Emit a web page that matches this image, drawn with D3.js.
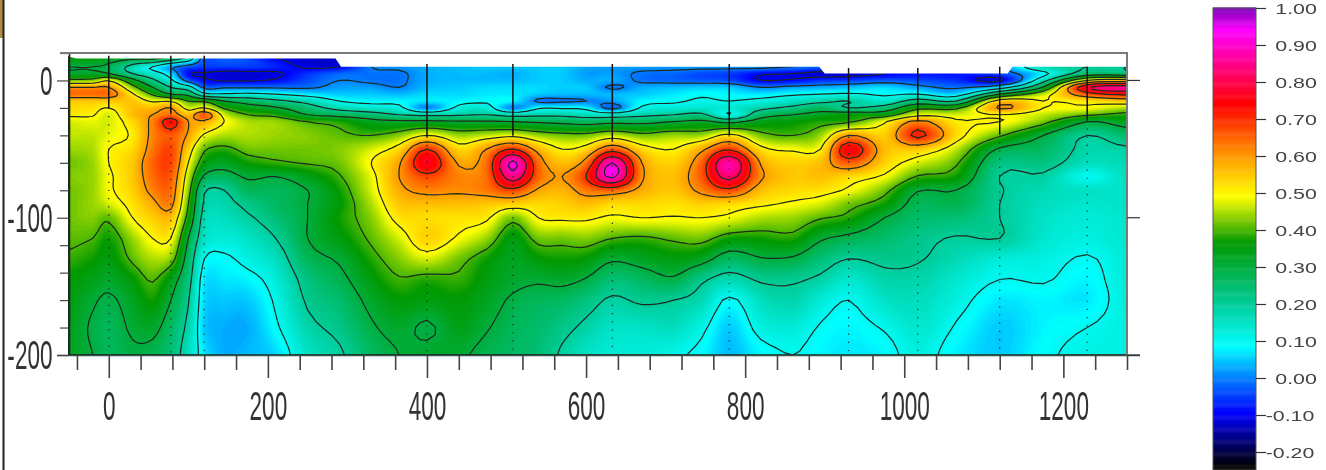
<!DOCTYPE html>
<html>
<head>
<meta charset="utf-8">
<script src="https://cdn.jsdelivr.net/npm/d3@7"></script>
<style>
  html, body { margin: 0; padding: 0; background: #fff; }
  svg { display: block; filter: blur(0.45px); }
  text { font-family: "Liberation Sans", Arial, sans-serif; }
</style>
</head>
<body>
<svg id="chart" width="1326" height="470"></svg>
<script>
// distance along the line (m) of each grid column
const gridX = [-50, -20, 0, 30, 55, 78, 100, 120, 145, 175, 210, 250, 290, 330, 365, 400, 440, 475, 508,
  540, 570, 600, 633, 670, 710, 745, 780, 820, 860, 895, 930, 975, 1017, 1065, 1120, 1175, 1230, 1280];
// elevation (m) of each grid row
const gridZ = [17, 10, 5, 0, -5, -10, -15, -20, -25, -30, -40, -50, -60, -70, -80, -90, -100, -115, -130, -145, -160, -180, -200];

// values, one list per column, top to bottom
const gridColumns = [
  [.36,.30,.32,.42,.60,.64,.55,.53,.51,.47,.46,.44,.42,.43,.42,.42,.42,.41,.39,.36,.35,.34,.33],
  [.36,.30,.32,.43,.60,.64,.55,.52,.505,.48,.46,.45,.44,.44,.44,.44,.43,.40,.37,.34,.31,.29,.30],
  [.35,.28,.30,.49,.60,.64,.55,.50,.47,.47,.48,.50,.50,.49,.49,.47,.41,.37,.35,.32,.29,.27,.27],
  [.33,.17,.20,.33,.43,.51,.55,.56,.56,.53,.51,.53,.55,.55,.54,.52,.50,.44,.41,.36,.33,.31,.29],
  [.34,.10,.14,.22,.30,.39,.49,.56,.60,.62,.62,.63,.65,.64,.62,.58,.54,.50,.45,.405,.37,.32,.28],
  [.28,.02,.06,.12,.20,.30,.49,.60,.64,.74,.66,.68,.68,.66,.64,.62,.56,.50,.43,.34,.30,.26,.24],
  [.18,-.03,-.09,-.03,.14,.27,.40,.47,.56,.60,.59,.54,.50,.46,.43,.40,.37,.30,.26,.23,.205,.18,.16],
  [-.03,-.05,-.105,-.085,-.02,.13,.38,.50,.66,.58,.49,.41,.36,.29,.21,.19,.17,.15,.10,.07,.06,.05,.07],
  [-.02,-.05,-.12,-.105,-.01,.11,.30,.39,.47,.50,.45,.385,.33,.27,.20,.18,.16,.13,.09,.07,.05,.03,.03],
  [-.04,-.05,-.12,-.105,-.01,.12,.26,.34,.40,.45,.45,.42,.37,.31,.27,.22,.19,.15,.12,.08,.05,.03,.04],
  [-.10,-.07,-.11,-.09,-.01,.10,.22,.31,.38,.44,.44,.42,.39,.30,.27,.26,.24,.20,.16,.13,.11,.09,.06],
  [-.13,-.11,-.06,-.04,-.01,.07,.17,.24,.30,.40,.43,.42,.405,.34,.30,.30,.30,.30,.27,.23,.21,.18,.15],
  [-.12,-.10,-.02,.00,.02,.05,.10,.17,.27,.38,.41,.43,.42,.395,.37,.36,.37,.35,.31,.28,.25,.22,.19],
  [.00,.00,-.01,-.01,.02,.05,.08,.14,.24,.33,.40,.47,.50,.48,.47,.45,.43,.41,.38,.35,.32,.29,.26],
  [.00,.01,-.01,-.01,.00,.04,.08,.12,.20,.32,.43,.53,.59,.60,.58,.55,.52,.47,.43,.395,.36,.32,.30],
  [.01,.03,.03,.03,.04,.06,.07,.00,.18,.32,.50,.70,.77,.68,.62,.56,.525,.54,.47,.38,.35,.29,.32],
  [.03,.04,.04,.04,.05,.06,.08,.12,.19,.31,.44,.53,.59,.62,.61,.56,.52,.49,.42,.39,.36,.34,.31],
  [.04,.05,.04,.04,.06,.07,.09,.13,.20,.31,.46,.60,.64,.64,.63,.55,.51,.44,.37,.35,.33,.305,.28],
  [.05,.05,.03,.04,.06,.07,.08,.00,.17,.30,.48,.70,.92,.85,.68,.54,.42,.35,.33,.32,.29,.27,.26],
  [.05,.05,.05,.05,.06,.05,-.01,.09,.18,.29,.44,.57,.64,.65,.59,.53,.50,.42,.36,.31,.27,.25,.24],
  [.05,.05,.05,.05,.05,.04,-.01,.09,.18,.28,.42,.50,.56,.60,.57,.54,.51,.42,.37,.32,.26,.22,.19],
  [.05,.03,.02,.03,.05,.04,.00,.08,.16,.27,.42,.53,.63,.70,.63,.56,.51,.43,.36,.295,.23,.185,.15],
  [.04,.02,.02,.03,-.01,.04,.02,-.02,.15,.28,.46,.66,.90,.92,.65,.53,.49,.40,.31,.24,.19,.15,.13],
  [.02,.02,-.01,-.01,.03,.05,.08,.11,.18,.28,.42,.53,.60,.61,.58,.53,.50,.39,.33,.26,.21,.15,.13],
  [.02,.02,-.02,-.02,.04,.07,.09,.13,.20,.30,.44,.50,.54,.56,.55,.52,.495,.41,.35,.29,.20,.16,.11],
  [.02,.02,-.04,-.03,.05,.09,.11,.14,.22,.32,.44,.58,.65,.66,.62,.54,.50,.42,.33,.215,.17,.115,.085],
  [.02,.02,-.05,-.04,.05,.08,.10,.14,.10,.28,.52,.69,.88,.83,.68,.53,.485,.37,.26,.17,.09,.05,.04],
  [.02,.02,-.09,-.10,.00,.07,.12,.18,.26,.34,.42,.52,.59,.61,.56,.51,.45,.37,.295,.21,.16,.12,.08],
  [.02,.00,-.10,-.09,.02,.09,.15,.22,.30,.36,.40,.49,.54,.55,.53,.49,.44,.38,.29,.21,.18,.13,.10],
  [-.02,-.02,-.12,-.06,.03,.10,.18,.26,.33,.38,.44,.50,.56,.56,.52,.47,.405,.31,.24,.185,.13,.095,.08],
  [-.03,-.05,-.12,-.05,.04,.11,.20,.20,.36,.39,.60,.76,.66,.53,.49,.42,.38,.28,.20,.14,.10,.08,.07],
  [-.03,-.05,-.10,-.03,.06,.09,.14,.24,.36,.49,.54,.56,.54,.49,.42,.37,.30,.25,.215,.18,.15,.105,.08],
  [-.03,-.05,-.08,-.04,.02,.10,.24,.38,.48,.62,.72,.55,.47,.395,.305,.27,.25,.22,.205,.18,.16,.14,.12],
  [-.04,-.05,-.08,-.06,-.01,.06,.20,.38,.47,.51,.53,.46,.41,.37,.30,.28,.24,.195,.17,.14,.12,.095,.075],
  [-.04,.00,-.04,-.11,.06,.30,.54,.61,.50,.50,.41,.29,.23,.20,.205,.20,.20,.20,.13,.10,.07,.05,.05],
  [.10,.17,.08,.17,.31,.46,.50,.50,.46,.42,.30,.26,.23,.19,.17,.16,.15,.14,.12,.105,.08,.08,.09],
  [.22,.20,.25,.50,.78,.66,.52,.49,.41,.30,.20,.18,.16,.10,.15,.14,.13,.12,.095,.08,.07,.10,.115],
  [.22,.20,.24,.55,.85,.72,.55,.45,.38,.335,.25,.19,.17,.16,.15,.15,.14,.14,.13,.13,.125,.12,.12]
];

// top edge of the section, above it the plot stays white
const surfaceX = [-50, -40, 285, 292, 893, 900, 1130, 1136, 1280];
const surfaceZ = [17, 16, 16, 10, 10, 5, 5, 10, 10];

// boreholes: solid from top to end, dotted below
const holeX = [0, 78, 120, 400, 508, 633, 780, 930, 1017, 1120, 1230];
const holeTop = [18, 18, 18, 12, 12, 12, 12, 9, 9, 10, 10];
const holeEnd = [-20, -24, -23, -41, -40, -44, -40, -35, -29, -39, -29];

const xLabels = [0, 200, 400, 600, 800, 1000, 1200];
const yLabels = [0, -100, -200];
const contourLevels = [-.1, 0, .1, .2, .3, .4, .5, .6, .7, .8, .9];

const legendTicks = [1, .9, .8, .7, .6, .5, .4, .3, .2, .1, 0, -.1, -.2];
const colorStops = [-.24, -.095, 0, .085, .2, .365, .49, .6, .74, .94, 1];
const colorValues = ["#000000", "#0000ff", "#0080ff", "#00ffff", "#00cc99", "#009900",
  "#ffff00", "#ff9900", "#ff0000", "#ff00ff", "#7a00b8"];

const color = d3.scaleLinear().domain(colorStops).range(colorValues).clamp(true);

const svg = d3.select("#chart");
const x = d3.scaleLinear().domain([-50, 1280]).range([69, 1127]);
const y = d3.scaleLinear().domain([20, -200]).range([53, 355]);

// catmull-rom along one list, only to smooth the drawing between read values
function smoothList(v, k) {
  const out = [];
  for (let i = 0; i < v.length - 1; i++) {
    const a = v[Math.max(i - 1, 0)], b = v[i], c = v[i + 1], d = v[Math.min(i + 2, v.length - 1)];
    for (let j = 0; j < k; j++) {
      const t = j / k;
      out.push(.5 * (2 * b + (c - a) * t + (2 * a - 5 * b + 4 * c - d) * t * t + (3 * b - a - 3 * c + d) * t * t * t));
    }
  }
  out.push(v[v.length - 1]);
  return out;
}

const K = 4;
const fineCols = gridColumns.map(c => smoothList(c, K));
const ny = fineCols[0].length;
const fineRows = d3.range(ny).map(j => smoothList(fineCols.map(c => c[j]), K));
const nx = fineRows[0].length;
const values = fineRows.flat();

// contour coordinates -> metres -> pixels
const colPos = d3.range(nx).map(i => i / K);
const rowPos = d3.range(ny).map(j => j / K);
const toX = d3.scaleLinear().domain(colPos.map(d => d + .5 / K)).range(colPos.map(p => {
  const i = Math.min(Math.floor(p), gridX.length - 2), t = p - i;
  return gridX[i] + (gridX[i + 1] - gridX[i]) * t;
})).clamp(true);
const toZ = d3.scaleLinear().domain(rowPos.map(d => d + .5 / K)).range(rowPos.map(p => {
  const i = Math.min(Math.floor(p), gridZ.length - 2), t = p - i;
  return gridZ[i] + (gridZ[i + 1] - gridZ[i]) * t;
})).clamp(true);

const path = d3.geoPath(d3.geoTransform({
  point(px, py) { this.stream.point(x(toX(px / K)), y(toZ(py / K))); }
}));

const contours = d3.contours().size([nx, ny]).smooth(true);

// colour fill
const fillLevels = d3.range(-.26, 1.0, .005);
svg.append("g").selectAll("path")
  .data(contours.thresholds(fillLevels)(values))
  .join("path")
  .attr("d", path)
  .attr("fill", d => color(d.value + .0025));

// contour lines
svg.append("g").selectAll("path")
  .data(contours.thresholds(contourLevels)(values))
  .join("path")
  .attr("d", path)
  .attr("fill", "none")
  .attr("stroke", "#1c2a20")
  .attr("stroke-width", 1.2);

// white cover above the ground surface
const cover = surfaceX.map((d, i) => [x(d), y(surfaceZ[i])]);
cover.push([x(1280) + 2, y(10)], [x(1280) + 2, y(20)], [x(-50), y(20)]);
svg.append("path")
  .attr("d", d3.line()(cover) + "Z")
  .attr("fill", "#fff");

// boreholes
const holes = svg.append("g");
holeX.forEach((h, i) => {
  holes.append("line")
    .attr("x1", x(h)).attr("x2", x(h))
    .attr("y1", y(holeTop[i])).attr("y2", y(holeEnd[i]))
    .attr("stroke", "#111").attr("stroke-width", 1.5);
  holes.append("line")
    .attr("x1", x(h)).attr("x2", x(h))
    .attr("y1", y(holeEnd[i])).attr("y2", y(-200))
    .attr("stroke", "#222").attr("stroke-width", 1.2)
    .attr("stroke-dasharray", "1.2 7");
});

// axes
const bottomTicks = d3.range(-40, 1281, 40);
const leftTicks = d3.range(20, -201, -20);

const xAxis = svg.append("g").attr("transform", `translate(0,${y(-200)})`)
  .call(d3.axisBottom(x).tickValues(bottomTicks).tickSizeOuter(0)
    .tickFormat(d => xLabels.includes(d) ? d : ""));
xAxis.selectAll(".tick line")
  .attr("stroke", "#444").attr("stroke-width", 1.6)
  .attr("y2", d => xLabels.includes(d) ? 23 : 15);
xAxis.selectAll(".tick text")
  .attr("font-size", 41).attr("fill", "#333")
  .attr("font-family", "'Liberation Sans', Arial, sans-serif")
  .attr("text-anchor", "middle")
  .attr("transform", "scale(.55,1)")
  .attr("y", 0).attr("dy", 65);
xAxis.select(".domain").attr("stroke", "#34504a").attr("stroke-width", 1.6)
  .attr("d", `M${x(-50) - 12},0.5H1140`);

const yAxis = svg.append("g").attr("transform", `translate(${x(-50)},0)`)
  .call(d3.axisLeft(y).tickValues(leftTicks).tickSizeOuter(0)
    .tickFormat(d => yLabels.includes(d) ? d : ""));
yAxis.selectAll(".tick line")
  .attr("stroke", "#444").attr("stroke-width", 1.2)
  .attr("x2", d => yLabels.includes(d) ? -12 : -9);
yAxis.selectAll(".tick text")
  .attr("font-size", 41).attr("fill", "#333")
  .attr("font-family", "'Liberation Sans', Arial, sans-serif")
  .attr("text-anchor", "end")
  .attr("transform", "scale(.55,1)")
  .attr("x", -30).attr("dy", "0.34em");
yAxis.select(".domain").attr("stroke", "#1d2b22").attr("stroke-width", 1.6)
  .attr("d", `M0.5,${y(20)}V${y(-200)}`);

// top and right frame
svg.append("path")
  .attr("d", `M${x(-50) - 9},${y(20)}H${x(1280)}V${y(-200)}`)
  .attr("fill", "none").attr("stroke", "#7a7a7a").attr("stroke-width", 2);
svg.append("g").selectAll("line").data(yLabels).join("line")
  .attr("x1", x(1280)).attr("x2", 1140)
  .attr("y1", d => y(d)).attr("y2", d => y(d))
  .attr("stroke", "#333").attr("stroke-width", 1.2);

// window edge at the far left of the screenshot
svg.append("rect").attr("x", 0).attr("y", 0).attr("width", 3).attr("height", 38).attr("fill", "#b08a45");
svg.append("line").attr("x1", 3.5).attr("x2", 3.5).attr("y1", 0).attr("y2", 470)
  .attr("stroke", "#222").attr("stroke-width", 2);

// colour scale
const legendY = d3.scaleLinear().domain([1, 0]).range([8, 378]);
const legendRange = d3.range(-.2486, 1, .0025);
svg.append("g").selectAll("rect").data(legendRange).join("rect")
  .attr("x", 1213).attr("width", 43)
  .attr("y", d => legendY(d + .0025))
  .attr("height", legendY(0) - legendY(.0025) + .5)
  .attr("fill", d => color(d));
svg.append("rect")
  .attr("x", 1213).attr("y", 8).attr("width", 43).attr("height", 462)
  .attr("fill", "none").attr("stroke", "#555").attr("stroke-width", 1);

const legendAxis = svg.append("g").attr("transform", "translate(1256,0)")
  .call(d3.axisRight(legendY).tickValues(legendTicks).tickSize(10).tickPadding(0).tickFormat(d3.format(".2f")));
legendAxis.select(".domain").remove();
legendAxis.selectAll(".tick line").attr("stroke", "#333").attr("stroke-width", 1.2);
legendAxis.selectAll(".tick text")
  .text(d => d3.format(".2f")(d).replace("\u2212", "-"))
  .attr("font-size", 15.5).attr("fill", "#444")
  .attr("font-family", "'Liberation Sans', Arial, sans-serif")
  .attr("text-anchor", "start")
  .attr("transform", "scale(1.38,1)")
  .attr("x", d => (d < 0 ? 7 : 14)).attr("dy", "0.36em");
</script>
</body>
</html>
